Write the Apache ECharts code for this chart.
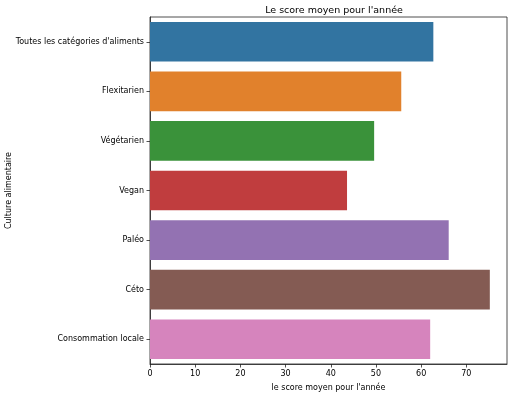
<!DOCTYPE html>
<html>
<head>
<meta charset="utf-8">
<script src="https://cdn.jsdelivr.net/npm/echarts@6/dist/echarts.min.js"></script>
<style>html,body{margin:0;padding:0;background:#fff;}#c{width:512px;height:396px;}</style>
</head>
<body>
<div id="c"></div>
<script>
var categories = ["Toutes les catégories d'aliments", "Flexitarien", "Végétarien", "Vegan", "Paléo", "Céto", "Consommation locale"];
var values = [62.7, 55.6, 49.6, 43.6, 66.1, 75.2, 62.0];
var colors = ['#3274a1', '#e1812c', '#3a923a', '#c03d3e', '#9372b2', '#845b53', '#d684bd'];
var xTicks = [0, 10, 20, 30, 40, 50, 60, 70];

var font = 'DejaVu Sans';
var chart = echarts.init(document.getElementById('c'), null, {renderer: 'canvas'});
chart.setOption({
  animation: false,
  backgroundColor: '#fff',
  title: {
    text: "Le score moyen pour l'année",
    left: 329, top: 1, textAlign: 'center',
    textStyle: {fontFamily: font, fontSize: 9.5, fontWeight: 'normal', color: '#000'}
  },
  grid: {left: 150, right: 5, top: 17, bottom: 32, show: true, borderColor: '#222', borderWidth: 0.8,
    backgroundColor: 'transparent', containLabel: false, outerBoundsMode: 'none'},
  xAxis: {
    type: 'value', min: 0, max: 79, interval: 10,
    name: "le score moyen pour l'année", nameLocation: 'middle', nameGap: 20, nameMoveOverlap: false,
    nameTextStyle: {fontFamily: font, fontSize: 8, color: '#000'},
    axisLine: {show: true, lineStyle: {color: '#222', width: 0.8}},
    axisTick: {show: true, length: 3.5, lineStyle: {color: '#222', width: 0.8}},
    axisLabel: {fontFamily: font, fontSize: 8, color: '#000', margin: 6, showMaxLabel: false,
      formatter: function(v){ return xTicks.indexOf(v) >= 0 ? String(v) : ''; }},
    splitLine: {show: false}
  },
  yAxis: {
    type: 'category', data: categories, inverse: true,
    name: 'Culture alimentaire', nameLocation: 'middle', nameGap: 137, nameRotate: 90, nameMoveOverlap: false,
    nameTextStyle: {fontFamily: font, fontSize: 8, color: '#000'},
    axisLine: {show: true, lineStyle: {color: '#222', width: 0.8}},
    axisTick: {show: true, alignWithLabel: true, length: 3.5, lineStyle: {color: '#222', width: 0.8}},
    axisLabel: {fontFamily: font, fontSize: 8, color: '#000', margin: 6},
    splitLine: {show: false}
  },
  series: [{
    type: 'bar',
    barWidth: '80%',
    data: values.map(function(v, i){ return {value: v, itemStyle: {color: colors[i]}}; })
  }]
});
</script>
</body>
</html>
